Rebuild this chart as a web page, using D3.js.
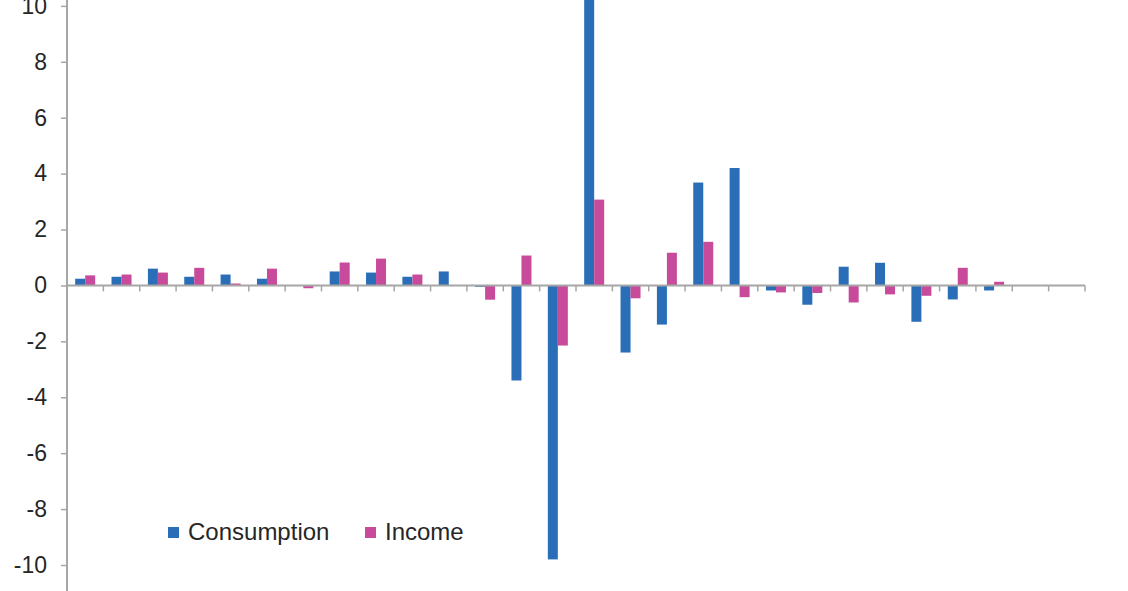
<!DOCTYPE html>
<html>
<head>
<meta charset="utf-8">
<script src="https://cdn.jsdelivr.net/npm/d3@7"></script>
<style>
  html, body { margin: 0; padding: 0; background: #fff; }
  svg { display: block; }
  text { font-family: "Liberation Sans", Arial, sans-serif; fill: #262626; }
</style>
</head>
<body>
<svg id="chart" width="1128" height="591"></svg>
<script>
// ---- data ----
const categories = ["1","2","3","4","5","6","7","8","9","10","11","12","13","14",
                    "15","16","17","18","19","20","21","22","23","24","25","26","27","28"];
const consumption = [0.24, 0.31, 0.60, 0.31, 0.39, 0.24, 0.00, 0.50, 0.46, 0.31, 0.50, -0.05,
                     -3.40, -9.80, 12.0, -2.40, -1.40, 3.68, 4.20, -0.18, -0.69, 0.67, 0.81,
                     -1.30, -0.50, -0.18, null, null];
const income = [0.36, 0.39, 0.46, 0.63, 0.07, 0.60, -0.10, 0.82, 0.96, 0.39, 0.00, -0.51,
                1.07, -2.15, 3.07, -0.46, 1.17, 1.56, -0.42, -0.25, -0.27, -0.61, -0.32,
                -0.37, 0.63, 0.13, null, null];
const yTicks = [-10, -8, -6, -4, -2, 0, 2, 4, 6, 8, 10];
const seriesNames = ["Consumption", "Income"];
const seriesColors = ["#2A6EB8", "#C84B9B"];

// ---- layout ----
const W = 1128, H = 591;
const plotLeft = 67, plotRight = 1085;
const svg = d3.select("#chart");

const y = d3.scaleLinear().domain([-10.93, 10.21]).range([H, 0]);
const x = d3.scaleBand().domain(categories).range([plotLeft, plotRight]).padding(0);
const groupW = 20;
const sub = d3.scaleBand().domain(seriesNames).range([0, groupW]).padding(0);

const series = [consumption, income];

// bars
series.forEach((vals, si) => {
  svg.append("g").selectAll("rect")
    .data(categories.map((c, i) => ({c, v: vals[i]})).filter(d => d.v !== null && d.v !== 0))
    .join("rect")
    .attr("x", d => x(d.c) + x.bandwidth() / 2 - groupW / 2 + sub(seriesNames[si]))
    .attr("width", sub.bandwidth())
    .attr("y", d => y(Math.max(0, d.v)))
    .attr("height", d => Math.abs(y(d.v) - y(0)))
    .attr("fill", seriesColors[si]);
});

// y axis
const yAxis = d3.axisLeft(y).tickValues(yTicks).tickSize(6).tickPadding(14).tickFormat(d => String(d));
const gy = svg.append("g").attr("transform", `translate(${plotLeft},0)`).call(yAxis);
gy.select(".domain").remove();
gy.selectAll(".tick line").attr("stroke", "#A6A6A6").attr("stroke-width", 1.5);
gy.selectAll(".tick text").attr("font-size", 23).attr("fill", "#262626")
  .attr("font-family", '"Liberation Sans", Arial, sans-serif');
svg.append("line").attr("x1", plotLeft).attr("x2", plotLeft).attr("y1", 0).attr("y2", H)
  .attr("stroke", "#A6A6A6").attr("stroke-width", 2);

// x axis at zero
const boundaries = categories.map(c => x(c) + x.bandwidth());
const gx = svg.append("g");
gx.append("line").attr("x1", plotLeft).attr("x2", plotRight).attr("y1", y(0)).attr("y2", y(0))
  .attr("stroke", "#A6A6A6").attr("stroke-width", 2);
gx.selectAll("line.tick").data(boundaries).join("line").attr("class", "tick")
  .attr("x1", d => d).attr("x2", d => d).attr("y1", y(0)).attr("y2", y(0) + 6)
  .attr("stroke", "#A6A6A6").attr("stroke-width", 1.5);

// legend
const legendItems = [{x: 168, name: seriesNames[0], color: seriesColors[0]},
                     {x: 365, name: seriesNames[1], color: seriesColors[1]}];
const lg = svg.append("g");
legendItems.forEach(it => {
  lg.append("rect").attr("x", it.x).attr("y", 527).attr("width", 11).attr("height", 11).attr("fill", it.color);
  lg.append("text").attr("x", it.x + 20).attr("y", 539.5).attr("font-size", 24).text(it.name);
});
</script>
</body>
</html>
